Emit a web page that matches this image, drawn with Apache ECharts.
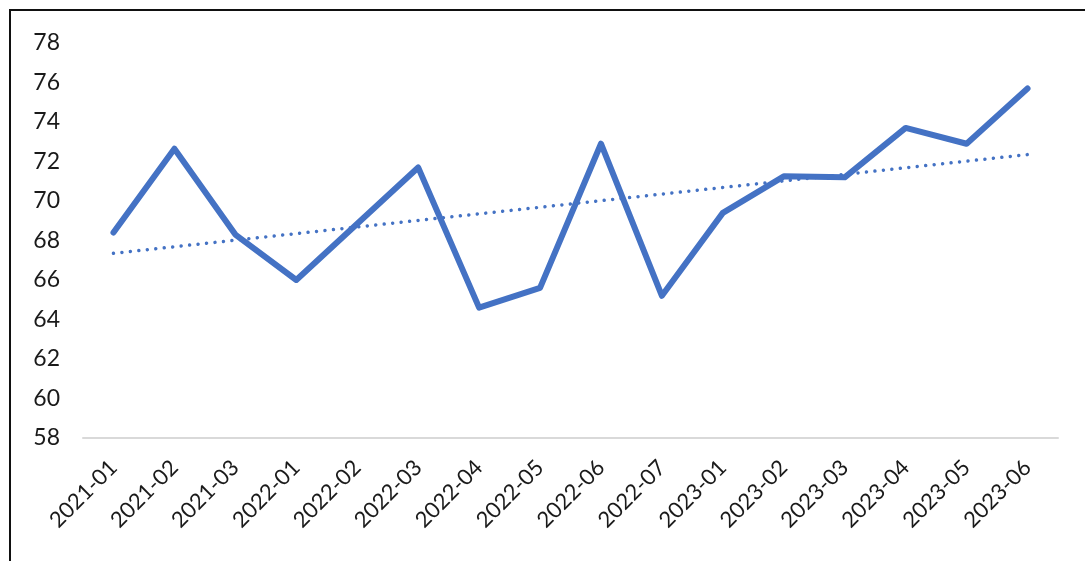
<!DOCTYPE html>
<html>
<head>
<meta charset="utf-8">
<script src="https://cdn.jsdelivr.net/npm/echarts@6/dist/echarts.min.js"></script>
<style>
html,body{margin:0;padding:0;background:#fff;overflow:hidden;}
#chart{position:absolute;left:0;top:0;width:1085px;height:561px;}
#frame{position:absolute;left:9px;top:9px;width:1100px;height:600px;border-top:2px solid #111;border-left:2px solid #111;pointer-events:none;}
</style>
</head>
<body>
<div id="chart"></div>
<div id="frame"></div>
<script>
const categories = ['2021-01','2021-02','2021-03','2022-01','2022-02','2022-03','2022-04','2022-05','2022-06','2022-07','2023-01','2023-02','2023-03','2023-04','2023-05','2023-06'];
const values = [68.4, 72.65, 68.3, 66.0, 68.85, 71.7, 64.6, 65.6, 72.9, 65.2, 69.4, 71.25, 71.2, 73.7, 72.9, 75.7];
const trendStart = 67.35;
const trendEnd = 72.35;
const yMin = 58, yMax = 78, yStep = 2;

const trend = categories.map((c, i) => i === 0 ? trendStart : (i === categories.length - 1 ? trendEnd : null));

const chart = echarts.init(document.getElementById('chart'));
chart.setOption({
  animation: false,
  grid: {left: 83, right: 27, top: 43, bottom: 123},
  xAxis: {
    type: 'category',
    data: categories,
    axisLine: {lineStyle: {color: '#d9d9d9', width: 2}},
    axisTick: {show: false},
    axisLabel: {rotate: 45, color: '#1a1a1a', fontSize: 22, fontFamily: 'Lato, "Open Sans", sans-serif', margin: 26, interval: 0}
  },
  yAxis: {
    type: 'value',
    min: yMin, max: yMax, interval: yStep,
    axisLine: {show: false},
    axisTick: {show: false},
    splitLine: {show: false},
    axisLabel: {color: '#1a1a1a', fontSize: 23, fontFamily: 'Lato, "Open Sans", sans-serif', margin: 23}
  },
  series: [
    {
      type: 'line',
      data: values,
      symbol: 'none',
      lineStyle: {color: '#4472C4', width: 6, cap: 'round', join: 'round'},
      z: 3
    },
    {
      type: 'line',
      data: trend,
      connectNulls: true,
      symbol: 'none',
      lineStyle: {color: '#4472C4', width: 3.5, type: [0.01, 8.5], cap: 'round'},
      z: 2
    }
  ]
});
</script>
</body>
</html>
